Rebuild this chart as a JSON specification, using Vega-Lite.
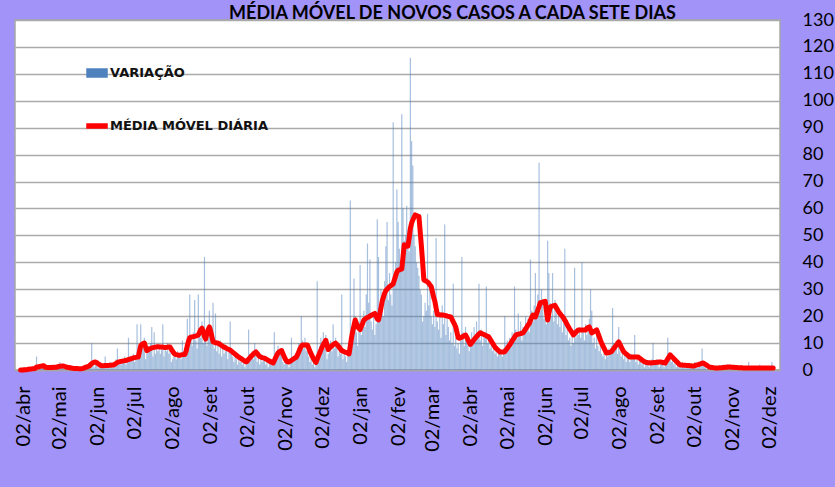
{
"$schema": "https://vega.github.io/schema/vega-lite/v6.json",
"width": 765,
"height": 350,
"autosize": {"type": "none"},
"padding": {"left": 15, "top": 20, "right": 55, "bottom": 117},
"background": "#a193f8",
"config": {"view": {"fill": "white", "stroke": "#a6a6a6", "strokeWidth": 1.5}},
"title": {"text": "MÉDIA MÓVEL DE NOVOS CASOS A CADA SETE DIAS", "font": "Lato", "fontSize": 18, "fontWeight": "bold", "color": "#000000", "anchor": "middle", "dx": 55, "dy": 32, "offset": 2, "baseline": "bottom"},
"data": {"values": [
{"d":"2020-03-31","v":0,"m":0},{"d":"2020-04-01","v":0,"m":0},{"d":"2020-04-02","v":0,"m":0},{"d":"2020-04-03","v":1,"m":0.1},{"d":"2020-04-04","v":0,"m":0.1},{"d":"2020-04-05","v":0,"m":0.1},{"d":"2020-04-06","v":1,"m":0.3},{"d":"2020-04-07","v":0,"m":0.3},{"d":"2020-04-08","v":1,"m":0.4},{"d":"2020-04-09","v":0,"m":0.4},{"d":"2020-04-10","v":1,"m":0.5},{"d":"2020-04-11","v":0,"m":0.5},{"d":"2020-04-12","v":1,"m":0.6},{"d":"2020-04-13","v":5,"m":1.1},{"d":"2020-04-14","v":0,"m":1.1},{"d":"2020-04-15","v":1,"m":1.2},{"d":"2020-04-16","v":2,"m":1.4},{"d":"2020-04-17","v":1,"m":1.4},{"d":"2020-04-18","v":1,"m":1.6},{"d":"2020-04-19","v":2,"m":1.6},{"d":"2020-04-20","v":0,"m":1.0},{"d":"2020-04-21","v":1,"m":1.0},{"d":"2020-04-22","v":1,"m":0.9},{"d":"2020-04-23","v":0,"m":0.9},{"d":"2020-04-24","v":1,"m":0.9},{"d":"2020-04-25","v":2,"m":0.9},{"d":"2020-04-26","v":1,"m":0.9},{"d":"2020-04-27","v":1,"m":1.0},{"d":"2020-04-28","v":1,"m":1.0},{"d":"2020-04-29","v":1,"m":1.0},{"d":"2020-04-30","v":2,"m":1.1},
{"d":"2020-05-01","v":1,"m":1.3},{"d":"2020-05-02","v":3,"m":1.4},{"d":"2020-05-03","v":1,"m":1.4},{"d":"2020-05-04","v":2,"m":1.5},{"d":"2020-05-05","v":1,"m":1.5},{"d":"2020-05-06","v":0,"m":1.3},{"d":"2020-05-07","v":1,"m":1.1},{"d":"2020-05-08","v":0,"m":1.0},{"d":"2020-05-09","v":1,"m":0.9},{"d":"2020-05-10","v":1,"m":0.9},{"d":"2020-05-11","v":0,"m":0.7},{"d":"2020-05-12","v":1,"m":0.7},{"d":"2020-05-13","v":0,"m":0.6},{"d":"2020-05-14","v":1,"m":0.6},{"d":"2020-05-15","v":0,"m":0.6},{"d":"2020-05-16","v":1,"m":0.6},{"d":"2020-05-17","v":0,"m":0.5},{"d":"2020-05-18","v":1,"m":0.5},{"d":"2020-05-19","v":0,"m":0.5},{"d":"2020-05-20","v":1,"m":0.5},{"d":"2020-05-21","v":0,"m":0.6},{"d":"2020-05-22","v":1,"m":0.8},{"d":"2020-05-23","v":2,"m":1.0},{"d":"2020-05-24","v":1,"m":1.1},{"d":"2020-05-25","v":2,"m":1.3},{"d":"2020-05-26","v":1,"m":1.5},{"d":"2020-05-27","v":3,"m":2.0},{"d":"2020-05-28","v":10,"m":2.4},{"d":"2020-05-29","v":2,"m":2.7},{"d":"2020-05-30","v":1,"m":2.9},{"d":"2020-05-31","v":3,"m":3.0},
{"d":"2020-06-01","v":2,"m":2.8},{"d":"2020-06-02","v":1,"m":2.4},{"d":"2020-06-03","v":1,"m":2.1},{"d":"2020-06-04","v":2,"m":1.8},{"d":"2020-06-05","v":1,"m":1.6},{"d":"2020-06-06","v":2,"m":1.6},{"d":"2020-06-07","v":1,"m":1.6},{"d":"2020-06-08","v":5,"m":1.7},{"d":"2020-06-09","v":1,"m":1.7},{"d":"2020-06-10","v":2,"m":1.7},{"d":"2020-06-11","v":1,"m":1.7},{"d":"2020-06-12","v":3,"m":1.8},{"d":"2020-06-13","v":2,"m":1.8},{"d":"2020-06-14","v":1,"m":1.9},{"d":"2020-06-15","v":2,"m":1.9},{"d":"2020-06-16","v":3,"m":2.2},{"d":"2020-06-17","v":4,"m":2.5},{"d":"2020-06-18","v":8,"m":2.8},{"d":"2020-06-19","v":2,"m":3.0},{"d":"2020-06-20","v":3,"m":3.1},{"d":"2020-06-21","v":2,"m":3.2},{"d":"2020-06-22","v":4,"m":3.3},{"d":"2020-06-23","v":3,"m":3.4},{"d":"2020-06-24","v":5,"m":3.5},{"d":"2020-06-25","v":2,"m":3.5},{"d":"2020-06-26","v":4,"m":3.7},{"d":"2020-06-27","v":12,"m":3.9},{"d":"2020-06-28","v":3,"m":4.0},{"d":"2020-06-29","v":5,"m":4.2},{"d":"2020-06-30","v":4,"m":4.3},
{"d":"2020-07-01","v":6,"m":4.5},{"d":"2020-07-02","v":3,"m":4.6},{"d":"2020-07-03","v":5,"m":4.7},{"d":"2020-07-04","v":17,"m":4.8},{"d":"2020-07-05","v":6,"m":4.8},{"d":"2020-07-06","v":9,"m":7.0},{"d":"2020-07-07","v":17,"m":9.0},{"d":"2020-07-08","v":10,"m":9.5},{"d":"2020-07-09","v":8,"m":9.8},{"d":"2020-07-10","v":12,"m":10.0},{"d":"2020-07-11","v":4,"m":8.5},{"d":"2020-07-12","v":6,"m":7.2},{"d":"2020-07-13","v":9,"m":7.5},{"d":"2020-07-14","v":7,"m":7.8},{"d":"2020-07-15","v":10,"m":8.0},{"d":"2020-07-16","v":16,"m":8.2},{"d":"2020-07-17","v":5,"m":8.3},{"d":"2020-07-18","v":14,"m":8.4},{"d":"2020-07-19","v":6,"m":8.5},{"d":"2020-07-20","v":8,"m":8.6},{"d":"2020-07-21","v":7,"m":8.6},{"d":"2020-07-22","v":9,"m":8.6},{"d":"2020-07-23","v":6,"m":8.5},{"d":"2020-07-24","v":8,"m":8.5},{"d":"2020-07-25","v":17,"m":8.5},{"d":"2020-07-26","v":5,"m":8.4},{"d":"2020-07-27","v":9,"m":8.4},{"d":"2020-07-28","v":7,"m":8.4},{"d":"2020-07-29","v":10,"m":8.5},{"d":"2020-07-30","v":6,"m":8.5},{"d":"2020-07-31","v":8,"m":8.5},
{"d":"2020-08-01","v":3,"m":7.7},{"d":"2020-08-02","v":4,"m":7.0},{"d":"2020-08-03","v":5,"m":6.3},{"d":"2020-08-04","v":6,"m":5.8},{"d":"2020-08-05","v":4,"m":5.7},{"d":"2020-08-06","v":7,"m":5.6},{"d":"2020-08-07","v":5,"m":5.5},{"d":"2020-08-08","v":6,"m":5.5},{"d":"2020-08-09","v":4,"m":5.6},{"d":"2020-08-10","v":11,"m":5.7},{"d":"2020-08-11","v":5,"m":5.8},{"d":"2020-08-12","v":7,"m":5.8},{"d":"2020-08-13","v":8,"m":7.0},{"d":"2020-08-14","v":19,"m":9.0},{"d":"2020-08-15","v":10,"m":10.7},{"d":"2020-08-16","v":28,"m":12.0},{"d":"2020-08-17","v":12,"m":12.2},{"d":"2020-08-18","v":9,"m":12.3},{"d":"2020-08-19","v":14,"m":12.4},{"d":"2020-08-20","v":26,"m":12.5},{"d":"2020-08-21","v":11,"m":12.6},{"d":"2020-08-22","v":8,"m":12.8},{"d":"2020-08-23","v":28,"m":13.0},{"d":"2020-08-24","v":15,"m":14.0},{"d":"2020-08-25","v":12,"m":15.0},{"d":"2020-08-26","v":18,"m":15.5},{"d":"2020-08-27","v":10,"m":14.0},{"d":"2020-08-28","v":42,"m":12.5},{"d":"2020-08-29","v":14,"m":11.5},{"d":"2020-08-30","v":9,"m":13.5},{"d":"2020-08-31","v":12,"m":15.0},
{"d":"2020-09-01","v":22,"m":16.0},{"d":"2020-09-02","v":12,"m":14.5},{"d":"2020-09-03","v":16,"m":12.5},{"d":"2020-09-04","v":25,"m":10.5},{"d":"2020-09-05","v":8,"m":10.3},{"d":"2020-09-06","v":21,"m":10.1},{"d":"2020-09-07","v":7,"m":10.0},{"d":"2020-09-08","v":9,"m":10.0},{"d":"2020-09-09","v":6,"m":9.7},{"d":"2020-09-10","v":11,"m":9.4},{"d":"2020-09-11","v":5,"m":9.1},{"d":"2020-09-12","v":8,"m":8.8},{"d":"2020-09-13","v":6,"m":8.5},{"d":"2020-09-14","v":7,"m":8.3},{"d":"2020-09-15","v":9,"m":8.0},{"d":"2020-09-16","v":4,"m":7.8},{"d":"2020-09-17","v":8,"m":7.6},{"d":"2020-09-18","v":18,"m":7.4},{"d":"2020-09-19","v":6,"m":7.0},{"d":"2020-09-20","v":5,"m":6.6},{"d":"2020-09-21","v":3,"m":6.3},{"d":"2020-09-22","v":5,"m":5.9},{"d":"2020-09-23","v":4,"m":5.5},{"d":"2020-09-24","v":2,"m":5.1},{"d":"2020-09-25","v":6,"m":4.8},{"d":"2020-09-26","v":3,"m":4.5},{"d":"2020-09-27","v":4,"m":4.2},{"d":"2020-09-28","v":2,"m":3.9},{"d":"2020-09-29","v":3,"m":3.6},{"d":"2020-09-30","v":1,"m":3.3},
{"d":"2020-10-01","v":2,"m":3.0},{"d":"2020-10-02","v":4,"m":3.3},{"d":"2020-10-03","v":15,"m":4.0},{"d":"2020-10-04","v":6,"m":4.5},{"d":"2020-10-05","v":5,"m":5.0},{"d":"2020-10-06","v":7,"m":5.5},{"d":"2020-10-07","v":4,"m":6.0},{"d":"2020-10-08","v":10,"m":6.4},{"d":"2020-10-09","v":6,"m":6.7},{"d":"2020-10-10","v":3,"m":6.2},{"d":"2020-10-11","v":5,"m":5.6},{"d":"2020-10-12","v":2,"m":5.0},{"d":"2020-10-13","v":6,"m":4.8},{"d":"2020-10-14","v":3,"m":4.6},{"d":"2020-10-15","v":4,"m":4.5},{"d":"2020-10-16","v":5,"m":4.4},{"d":"2020-10-17","v":2,"m":4.1},{"d":"2020-10-18","v":4,"m":3.9},{"d":"2020-10-19","v":1,"m":3.6},{"d":"2020-10-20","v":3,"m":3.3},{"d":"2020-10-21","v":2,"m":3.1},{"d":"2020-10-22","v":2,"m":2.8},{"d":"2020-10-23","v":3,"m":2.6},{"d":"2020-10-24","v":14,"m":3.5},{"d":"2020-10-25","v":4,"m":4.5},{"d":"2020-10-26","v":5,"m":5.5},{"d":"2020-10-27","v":9,"m":6.3},{"d":"2020-10-28","v":6,"m":6.8},{"d":"2020-10-29","v":8,"m":7.0},{"d":"2020-10-30","v":5,"m":7.2},{"d":"2020-10-31","v":3,"m":6.0},
{"d":"2020-11-01","v":2,"m":5.0},{"d":"2020-11-02","v":4,"m":4.0},{"d":"2020-11-03","v":3,"m":3.3},{"d":"2020-11-04","v":2,"m":3.0},{"d":"2020-11-05","v":1,"m":3.0},{"d":"2020-11-06","v":4,"m":3.3},{"d":"2020-11-07","v":12,"m":3.6},{"d":"2020-11-08","v":3,"m":3.9},{"d":"2020-11-09","v":5,"m":4.2},{"d":"2020-11-10","v":6,"m":4.5},{"d":"2020-11-11","v":4,"m":4.8},{"d":"2020-11-12","v":8,"m":5.7},{"d":"2020-11-13","v":10,"m":6.8},{"d":"2020-11-14","v":9,"m":7.9},{"d":"2020-11-15","v":20,"m":8.8},{"d":"2020-11-16","v":11,"m":9.3},{"d":"2020-11-17","v":8,"m":9.3},{"d":"2020-11-18","v":12,"m":9.3},{"d":"2020-11-19","v":7,"m":9.3},{"d":"2020-11-20","v":9,"m":9.3},{"d":"2020-11-21","v":5,"m":8.2},{"d":"2020-11-22","v":3,"m":7.0},{"d":"2020-11-23","v":4,"m":6.0},{"d":"2020-11-24","v":2,"m":5.0},{"d":"2020-11-25","v":3,"m":4.2},{"d":"2020-11-26","v":1,"m":3.4},{"d":"2020-11-27","v":2,"m":2.8},{"d":"2020-11-28","v":33,"m":4.0},{"d":"2020-11-29","v":6,"m":5.2},{"d":"2020-11-30","v":9,"m":6.3},
{"d":"2020-12-01","v":12,"m":7.4},{"d":"2020-12-02","v":10,"m":8.5},{"d":"2020-12-03","v":14,"m":9.5},{"d":"2020-12-04","v":8,"m":10.3},{"d":"2020-12-05","v":13,"m":11.0},{"d":"2020-12-06","v":4,"m":9.3},{"d":"2020-12-07","v":6,"m":7.6},{"d":"2020-12-08","v":9,"m":8.1},{"d":"2020-12-09","v":11,"m":8.6},{"d":"2020-12-10","v":7,"m":9.0},{"d":"2020-12-11","v":17,"m":9.4},{"d":"2020-12-12","v":8,"m":9.7},{"d":"2020-12-13","v":12,"m":10.0},{"d":"2020-12-14","v":9,"m":9.5},{"d":"2020-12-15","v":5,"m":9.0},{"d":"2020-12-16","v":7,"m":8.4},{"d":"2020-12-17","v":6,"m":7.8},{"d":"2020-12-18","v":28,"m":7.2},{"d":"2020-12-19","v":4,"m":7.0},{"d":"2020-12-20","v":6,"m":6.8},{"d":"2020-12-21","v":5,"m":6.6},{"d":"2020-12-22","v":3,"m":6.4},{"d":"2020-12-23","v":7,"m":6.2},{"d":"2020-12-24","v":8,"m":6.0},{"d":"2020-12-25","v":63,"m":9.0},{"d":"2020-12-26","v":12,"m":12.0},{"d":"2020-12-27","v":15,"m":14.5},{"d":"2020-12-28","v":34,"m":16.5},{"d":"2020-12-29","v":20,"m":18.6},{"d":"2020-12-30","v":14,"m":17.2},{"d":"2020-12-31","v":9,"m":16.0},
{"d":"2021-01-01","v":18,"m":15.5},{"d":"2021-01-02","v":39,"m":15.0},{"d":"2021-01-03","v":13,"m":16.2},{"d":"2021-01-04","v":17,"m":17.3},{"d":"2021-01-05","v":22,"m":18.5},{"d":"2021-01-06","v":16,"m":18.9},{"d":"2021-01-07","v":28,"m":19.3},{"d":"2021-01-08","v":47,"m":19.5},{"d":"2021-01-09","v":25,"m":19.7},{"d":"2021-01-10","v":41,"m":20.0},{"d":"2021-01-11","v":18,"m":20.3},{"d":"2021-01-12","v":15,"m":20.5},{"d":"2021-01-13","v":21,"m":20.8},{"d":"2021-01-14","v":13,"m":21.0},{"d":"2021-01-15","v":17,"m":20.0},{"d":"2021-01-16","v":56,"m":19.0},{"d":"2021-01-17","v":42,"m":18.6},{"d":"2021-01-18","v":22,"m":20.7},{"d":"2021-01-19","v":30,"m":23.0},{"d":"2021-01-20","v":24,"m":25.5},{"d":"2021-01-21","v":20,"m":27.0},{"d":"2021-01-22","v":33,"m":28.5},{"d":"2021-01-23","v":46,"m":29.5},{"d":"2021-01-24","v":55,"m":30.0},{"d":"2021-01-25","v":26,"m":30.5},{"d":"2021-01-26","v":36,"m":31.0},{"d":"2021-01-27","v":28,"m":31.3},{"d":"2021-01-28","v":24,"m":31.6},{"d":"2021-01-29","v":92,"m":32.0},{"d":"2021-01-30","v":33,"m":33.5},{"d":"2021-01-31","v":40,"m":35.0},
{"d":"2021-02-01","v":67,"m":36.4},{"d":"2021-02-02","v":55,"m":37.0},{"d":"2021-02-03","v":45,"m":37.2},{"d":"2021-02-04","v":38,"m":37.4},{"d":"2021-02-05","v":95,"m":37.5},{"d":"2021-02-06","v":60,"m":42.0},{"d":"2021-02-07","v":48,"m":46.5},{"d":"2021-02-08","v":50,"m":46.3},{"d":"2021-02-09","v":61,"m":46.0},{"d":"2021-02-10","v":52,"m":46.0},{"d":"2021-02-11","v":44,"m":49.0},{"d":"2021-02-12","v":116,"m":52.5},{"d":"2021-02-13","v":85,"m":54.5},{"d":"2021-02-14","v":76,"m":55.8},{"d":"2021-02-15","v":50,"m":56.7},{"d":"2021-02-16","v":46,"m":57.6},{"d":"2021-02-17","v":40,"m":57.4},{"d":"2021-02-18","v":38,"m":57.2},{"d":"2021-02-19","v":35,"m":57.0},{"d":"2021-02-20","v":30,"m":51.5},{"d":"2021-02-21","v":28,"m":46.0},{"d":"2021-02-22","v":18,"m":40.0},{"d":"2021-02-23","v":20,"m":33.5},{"d":"2021-02-24","v":25,"m":33.2},{"d":"2021-02-25","v":22,"m":33.0},{"d":"2021-02-26","v":58,"m":32.7},{"d":"2021-02-27","v":24,"m":32.2},{"d":"2021-02-28","v":30,"m":31.6},
{"d":"2021-03-01","v":20,"m":31.0},{"d":"2021-03-02","v":17,"m":29.0},{"d":"2021-03-03","v":22,"m":27.0},{"d":"2021-03-04","v":16,"m":25.5},{"d":"2021-03-05","v":49,"m":23.0},{"d":"2021-03-06","v":18,"m":20.6},{"d":"2021-03-07","v":15,"m":20.5},{"d":"2021-03-08","v":20,"m":20.5},{"d":"2021-03-09","v":12,"m":20.4},{"d":"2021-03-10","v":24,"m":20.4},{"d":"2021-03-11","v":17,"m":20.4},{"d":"2021-03-12","v":54,"m":20.3},{"d":"2021-03-13","v":13,"m":20.2},{"d":"2021-03-14","v":19,"m":20.0},{"d":"2021-03-15","v":16,"m":19.9},{"d":"2021-03-16","v":11,"m":19.8},{"d":"2021-03-17","v":14,"m":19.7},{"d":"2021-03-18","v":10,"m":18.8},{"d":"2021-03-19","v":32,"m":17.9},{"d":"2021-03-20","v":9,"m":17.0},{"d":"2021-03-21","v":12,"m":16.0},{"d":"2021-03-22","v":8,"m":14.0},{"d":"2021-03-23","v":10,"m":12.0},{"d":"2021-03-24","v":6,"m":11.8},{"d":"2021-03-25","v":11,"m":12.0},{"d":"2021-03-26","v":42,"m":12.2},{"d":"2021-03-27","v":14,"m":12.5},{"d":"2021-03-28","v":9,"m":12.8},{"d":"2021-03-29","v":16,"m":13.0},{"d":"2021-03-30","v":12,"m":12.2},{"d":"2021-03-31","v":12,"m":11.2},
{"d":"2021-04-01","v":7,"m":10.3},{"d":"2021-04-02","v":9,"m":9.5},{"d":"2021-04-03","v":14,"m":10.1},{"d":"2021-04-04","v":10,"m":10.7},{"d":"2021-04-05","v":16,"m":11.3},{"d":"2021-04-06","v":12,"m":11.9},{"d":"2021-04-07","v":18,"m":12.4},{"d":"2021-04-08","v":13,"m":12.9},{"d":"2021-04-09","v":32,"m":13.4},{"d":"2021-04-10","v":11,"m":13.8},{"d":"2021-04-11","v":15,"m":13.6},{"d":"2021-04-12","v":9,"m":13.4},{"d":"2021-04-13","v":14,"m":13.2},{"d":"2021-04-14","v":12,"m":13.0},{"d":"2021-04-15","v":31,"m":12.7},{"d":"2021-04-16","v":10,"m":12.5},{"d":"2021-04-17","v":13,"m":12.3},{"d":"2021-04-18","v":8,"m":11.5},{"d":"2021-04-19","v":11,"m":10.8},{"d":"2021-04-20","v":7,"m":10.0},{"d":"2021-04-21","v":10,"m":9.3},{"d":"2021-04-22","v":6,"m":8.5},{"d":"2021-04-23","v":9,"m":8.0},{"d":"2021-04-24","v":5,"m":7.6},{"d":"2021-04-25","v":8,"m":7.2},{"d":"2021-04-26","v":6,"m":6.7},{"d":"2021-04-27","v":7,"m":6.7},{"d":"2021-04-28","v":5,"m":6.7},{"d":"2021-04-29","v":8,"m":6.7},{"d":"2021-04-30","v":20,"m":6.8},
{"d":"2021-05-01","v":9,"m":7.4},{"d":"2021-05-02","v":11,"m":8.0},{"d":"2021-05-03","v":10,"m":8.7},{"d":"2021-05-04","v":12,"m":9.3},{"d":"2021-05-05","v":10,"m":10.0},{"d":"2021-05-06","v":14,"m":10.8},{"d":"2021-05-07","v":12,"m":11.5},{"d":"2021-05-08","v":31,"m":12.2},{"d":"2021-05-09","v":15,"m":13.0},{"d":"2021-05-10","v":12,"m":13.2},{"d":"2021-05-11","v":21,"m":13.3},{"d":"2021-05-12","v":14,"m":13.4},{"d":"2021-05-13","v":18,"m":13.5},{"d":"2021-05-14","v":11,"m":13.7},{"d":"2021-05-15","v":16,"m":13.8},{"d":"2021-05-16","v":13,"m":14.5},{"d":"2021-05-17","v":20,"m":15.2},{"d":"2021-05-18","v":17,"m":15.9},{"d":"2021-05-19","v":19,"m":16.7},{"d":"2021-05-20","v":14,"m":17.2},{"d":"2021-05-21","v":41,"m":18.5},{"d":"2021-05-22","v":22,"m":19.5},{"d":"2021-05-23","v":18,"m":20.4},{"d":"2021-05-24","v":24,"m":20.0},{"d":"2021-05-25","v":36,"m":19.7},{"d":"2021-05-26","v":20,"m":21.0},{"d":"2021-05-27","v":28,"m":22.3},{"d":"2021-05-28","v":77,"m":23.6},{"d":"2021-05-29","v":22,"m":25.0},{"d":"2021-05-30","v":30,"m":25.1},{"d":"2021-05-31","v":26,"m":25.2},
{"d":"2021-06-01","v":19,"m":25.4},{"d":"2021-06-02","v":24,"m":25.5},{"d":"2021-06-03","v":17,"m":22.0},{"d":"2021-06-04","v":48,"m":18.6},{"d":"2021-06-05","v":36,"m":21.0},{"d":"2021-06-06","v":25,"m":23.4},{"d":"2021-06-07","v":20,"m":23.6},{"d":"2021-06-08","v":36,"m":23.8},{"d":"2021-06-09","v":18,"m":23.9},{"d":"2021-06-10","v":26,"m":24.0},{"d":"2021-06-11","v":21,"m":23.2},{"d":"2021-06-12","v":17,"m":22.4},{"d":"2021-06-13","v":23,"m":21.6},{"d":"2021-06-14","v":16,"m":21.0},{"d":"2021-06-15","v":20,"m":20.4},{"d":"2021-06-16","v":14,"m":19.9},{"d":"2021-06-17","v":19,"m":19.3},{"d":"2021-06-18","v":45,"m":18.5},{"d":"2021-06-19","v":13,"m":17.7},{"d":"2021-06-20","v":15,"m":16.8},{"d":"2021-06-21","v":11,"m":16.0},{"d":"2021-06-22","v":12,"m":15.2},{"d":"2021-06-23","v":9,"m":14.5},{"d":"2021-06-24","v":14,"m":13.8},{"d":"2021-06-25","v":10,"m":13.0},{"d":"2021-06-26","v":38,"m":13.5},{"d":"2021-06-27","v":12,"m":14.0},{"d":"2021-06-28","v":15,"m":14.4},{"d":"2021-06-29","v":13,"m":14.9},{"d":"2021-06-30","v":16,"m":14.9},
{"d":"2021-07-01","v":12,"m":14.9},{"d":"2021-07-02","v":40,"m":14.9},{"d":"2021-07-03","v":14,"m":14.9},{"d":"2021-07-04","v":11,"m":14.9},{"d":"2021-07-05","v":17,"m":14.9},{"d":"2021-07-06","v":13,"m":15.5},{"d":"2021-07-07","v":15,"m":15.8},{"d":"2021-07-08","v":19,"m":16.0},{"d":"2021-07-09","v":30,"m":14.9},{"d":"2021-07-10","v":22,"m":13.8},{"d":"2021-07-11","v":10,"m":14.1},{"d":"2021-07-12","v":12,"m":14.4},{"d":"2021-07-13","v":8,"m":14.6},{"d":"2021-07-14","v":15,"m":14.9},{"d":"2021-07-15","v":9,"m":13.7},{"d":"2021-07-16","v":7,"m":12.5},{"d":"2021-07-17","v":10,"m":11.2},{"d":"2021-07-18","v":6,"m":10.0},{"d":"2021-07-19","v":5,"m":9.1},{"d":"2021-07-20","v":7,"m":8.1},{"d":"2021-07-21","v":4,"m":7.2},{"d":"2021-07-22","v":6,"m":6.3},{"d":"2021-07-23","v":5,"m":6.4},{"d":"2021-07-24","v":8,"m":6.5},{"d":"2021-07-25","v":7,"m":6.6},{"d":"2021-07-26","v":9,"m":6.8},{"d":"2021-07-27","v":23,"m":7.4},{"d":"2021-07-28","v":10,"m":8.0},{"d":"2021-07-29","v":8,"m":8.6},{"d":"2021-07-30","v":11,"m":9.2},{"d":"2021-07-31","v":6,"m":9.8},
{"d":"2021-08-01","v":16,"m":10.4},{"d":"2021-08-02","v":7,"m":9.5},{"d":"2021-08-03","v":5,"m":8.6},{"d":"2021-08-04","v":8,"m":7.7},{"d":"2021-08-05","v":4,"m":6.8},{"d":"2021-08-06","v":6,"m":6.4},{"d":"2021-08-07","v":3,"m":6.0},{"d":"2021-08-08","v":5,"m":5.6},{"d":"2021-08-09","v":4,"m":5.2},{"d":"2021-08-10","v":3,"m":4.8},{"d":"2021-08-11","v":6,"m":4.8},{"d":"2021-08-12","v":4,"m":4.8},{"d":"2021-08-13","v":5,"m":4.8},{"d":"2021-08-14","v":13,"m":4.8},{"d":"2021-08-15","v":3,"m":4.8},{"d":"2021-08-16","v":4,"m":4.8},{"d":"2021-08-17","v":2,"m":4.8},{"d":"2021-08-18","v":5,"m":4.4},{"d":"2021-08-19","v":3,"m":4.1},{"d":"2021-08-20","v":2,"m":3.7},{"d":"2021-08-21","v":3,"m":3.4},{"d":"2021-08-22","v":1,"m":3.0},{"d":"2021-08-23","v":4,"m":2.9},{"d":"2021-08-24","v":2,"m":2.8},{"d":"2021-08-25","v":3,"m":2.7},{"d":"2021-08-26","v":1,"m":2.7},{"d":"2021-08-27","v":2,"m":2.6},{"d":"2021-08-28","v":4,"m":2.7},{"d":"2021-08-29","v":10,"m":2.7},{"d":"2021-08-30","v":3,"m":2.8},{"d":"2021-08-31","v":2,"m":2.8},
{"d":"2021-09-01","v":4,"m":2.9},{"d":"2021-09-02","v":3,"m":2.9},{"d":"2021-09-03","v":1,"m":3.0},{"d":"2021-09-04","v":2,"m":3.0},{"d":"2021-09-05","v":3,"m":2.9},{"d":"2021-09-06","v":2,"m":2.8},{"d":"2021-09-07","v":1,"m":2.7},{"d":"2021-09-08","v":3,"m":2.6},{"d":"2021-09-09","v":5,"m":3.4},{"d":"2021-09-10","v":12,"m":4.1},{"d":"2021-09-11","v":6,"m":4.9},{"d":"2021-09-12","v":4,"m":5.6},{"d":"2021-09-13","v":3,"m":5.1},{"d":"2021-09-14","v":5,"m":4.7},{"d":"2021-09-15","v":2,"m":4.2},{"d":"2021-09-16","v":3,"m":3.7},{"d":"2021-09-17","v":1,"m":3.2},{"d":"2021-09-18","v":2,"m":2.8},{"d":"2021-09-19","v":1,"m":2.3},{"d":"2021-09-20","v":2,"m":1.9},{"d":"2021-09-21","v":1,"m":1.9},{"d":"2021-09-22","v":3,"m":1.8},{"d":"2021-09-23","v":1,"m":1.8},{"d":"2021-09-24","v":2,"m":1.8},{"d":"2021-09-25","v":1,"m":1.7},{"d":"2021-09-26","v":2,"m":1.7},{"d":"2021-09-27","v":1,"m":1.7},{"d":"2021-09-28","v":2,"m":1.6},{"d":"2021-09-29","v":1,"m":1.6},{"d":"2021-09-30","v":2,"m":1.5},
{"d":"2021-10-01","v":1,"m":1.5},{"d":"2021-10-02","v":3,"m":1.6},{"d":"2021-10-03","v":1,"m":1.8},{"d":"2021-10-04","v":2,"m":1.9},{"d":"2021-10-05","v":1,"m":2.0},{"d":"2021-10-06","v":3,"m":2.2},{"d":"2021-10-07","v":2,"m":2.3},{"d":"2021-10-08","v":8,"m":2.5},{"d":"2021-10-09","v":2,"m":2.6},{"d":"2021-10-10","v":1,"m":2.3},{"d":"2021-10-11","v":1,"m":2.0},{"d":"2021-10-12","v":0,"m":1.7},{"d":"2021-10-13","v":1,"m":1.4},{"d":"2021-10-14","v":0,"m":1.1},{"d":"2021-10-15","v":1,"m":1.0},{"d":"2021-10-16","v":0,"m":0.9},{"d":"2021-10-17","v":1,"m":0.9},{"d":"2021-10-18","v":1,"m":0.8},{"d":"2021-10-19","v":0,"m":0.7},{"d":"2021-10-20","v":1,"m":0.7},{"d":"2021-10-21","v":0,"m":0.7},{"d":"2021-10-22","v":1,"m":0.8},{"d":"2021-10-23","v":1,"m":0.8},{"d":"2021-10-24","v":0,"m":0.8},{"d":"2021-10-25","v":2,"m":0.9},{"d":"2021-10-26","v":1,"m":0.9},{"d":"2021-10-27","v":0,"m":1.0},{"d":"2021-10-28","v":1,"m":1.0},{"d":"2021-10-29","v":2,"m":1.1},{"d":"2021-10-30","v":1,"m":1.1},{"d":"2021-10-31","v":0,"m":1.1},
{"d":"2021-11-01","v":1,"m":1.0},{"d":"2021-11-02","v":1,"m":1.0},{"d":"2021-11-03","v":0,"m":1.0},{"d":"2021-11-04","v":1,"m":0.9},{"d":"2021-11-05","v":0,"m":0.9},{"d":"2021-11-06","v":1,"m":0.9},{"d":"2021-11-07","v":1,"m":0.8},{"d":"2021-11-08","v":0,"m":0.8},{"d":"2021-11-09","v":1,"m":0.8},{"d":"2021-11-10","v":0,"m":0.8},{"d":"2021-11-11","v":1,"m":0.7},{"d":"2021-11-12","v":1,"m":0.7},{"d":"2021-11-13","v":0,"m":0.7},{"d":"2021-11-14","v":1,"m":0.7},{"d":"2021-11-15","v":3,"m":0.7},{"d":"2021-11-16","v":0,"m":0.7},{"d":"2021-11-17","v":1,"m":0.7},{"d":"2021-11-18","v":0,"m":0.7},{"d":"2021-11-19","v":1,"m":0.7},{"d":"2021-11-20","v":0,"m":0.7},{"d":"2021-11-21","v":1,"m":0.7},{"d":"2021-11-22","v":0,"m":0.7},{"d":"2021-11-23","v":1,"m":0.7},{"d":"2021-11-24","v":2,"m":0.7},{"d":"2021-11-25","v":0,"m":0.7},{"d":"2021-11-26","v":1,"m":0.7},{"d":"2021-11-27","v":0,"m":0.7},{"d":"2021-11-28","v":1,"m":0.7},{"d":"2021-11-29","v":0,"m":0.7},{"d":"2021-11-30","v":1,"m":0.7},
{"d":"2021-12-01","v":0,"m":0.7},{"d":"2021-12-02","v":1,"m":0.7},{"d":"2021-12-03","v":0,"m":0.7},{"d":"2021-12-04","v":3,"m":0.7},{"d":"2021-12-05","v":1,"m":0.7}
]},
"encoding": {
  "x": {"field": "d", "type": "temporal",
    "scale": {"type": "utc", "domain": [{"year": 2020, "month": 3, "date": 30, "hours": 12, "utc": true}, {"year": 2021, "month": 12, "date": 6, "hours": 12, "utc": true}]},
    "axis": {"title": null, "grid": false, "ticks": false, "labelAngle": -90, "labelPadding": 16, "labelFont": "Lato", "labelFontSize": 20, "labelColor": "#000000", "domainColor": "#a6a6a6", "domainWidth": 1.5, "labelOverlap": false,
      "values": [
        {"year": 2020, "month": 4, "date": 2, "utc": true}, {"year": 2020, "month": 5, "date": 2, "utc": true}, {"year": 2020, "month": 6, "date": 2, "utc": true}, {"year": 2020, "month": 7, "date": 2, "utc": true}, {"year": 2020, "month": 8, "date": 2, "utc": true}, {"year": 2020, "month": 9, "date": 2, "utc": true}, {"year": 2020, "month": 10, "date": 2, "utc": true}, {"year": 2020, "month": 11, "date": 2, "utc": true}, {"year": 2020, "month": 12, "date": 2, "utc": true},
        {"year": 2021, "month": 1, "date": 2, "utc": true}, {"year": 2021, "month": 2, "date": 2, "utc": true}, {"year": 2021, "month": 3, "date": 2, "utc": true}, {"year": 2021, "month": 4, "date": 2, "utc": true}, {"year": 2021, "month": 5, "date": 2, "utc": true}, {"year": 2021, "month": 6, "date": 2, "utc": true}, {"year": 2021, "month": 7, "date": 2, "utc": true}, {"year": 2021, "month": 8, "date": 2, "utc": true}, {"year": 2021, "month": 9, "date": 2, "utc": true}, {"year": 2021, "month": 10, "date": 2, "utc": true}, {"year": 2021, "month": 11, "date": 2, "utc": true}, {"year": 2021, "month": 12, "date": 2, "utc": true}
      ],
      "labelExpr": "'02/' + ['jan','fev','mar','abr','mai','jun','jul','ago','set','out','nov','dez'][utcmonth(datum.value)]"}
  }
},
"layer": [
  {"mark": {"type": "bar", "size": 1.2, "opacity": 0.5},
   "encoding": {
     "y": {"field": "v", "type": "quantitative",
       "scale": {"domain": [0, 130], "nice": false},
       "axis": {"orient": "right", "title": null, "values": [0,10,20,30,40,50,60,70,80,90,100,110,120,130], "labelOverlap": false, "labelBound": false, "labelFlush": false, "grid": true, "gridColor": "#aaaaaa", "gridWidth": 1.5, "ticks": false, "domain": false, "labelPadding": 22, "labelFont": "Lato", "labelFontSize": 18, "labelColor": "#000000"}},
     "color": {"datum": "VARIAÇÃO", "type": "nominal",
       "scale": {"domain": ["VARIAÇÃO", "MÉDIA MÓVEL DIÁRIA"], "range": ["#4f81bd", "#ff0000"]},
       "legend": {"title": null, "orient": "none", "legendX": 71, "legendY": 42, "direction": "vertical", "padding": 0, "rowPadding": 35, "labelOffset": 2, "labelFont": "DejaVu Sans", "labelFontWeight": "bold", "labelFontSize": 13, "labelColor": "#111111", "labelLimit": 400, "symbolSize": 400, "symbolOpacity": 1,
         "encode": {"symbols": {"update": {
           "shape": {"signal": "datum.value === 'VARIAÇÃO' ? 'M-1,-0.4H1V0.4H-1Z' : 'M-1,-0.2H1V0.2H-1Z'"},
           "fill": {"signal": "scale('color', datum.value)"},
           "stroke": {"value": "transparent"},
           "opacity": {"value": 1},
           "fillOpacity": {"value": 1},
           "size": {"value": 400}}}}}}
   }},
  {"mark": {"type": "line", "strokeWidth": 5, "strokeJoin": "round", "strokeCap": "round"},
   "encoding": {
     "y": {"field": "m", "type": "quantitative",
       "scale": {"domain": [0, 130], "nice": false},
       "axis": {"orient": "right", "title": null, "values": [0,10,20,30,40,50,60,70,80,90,100,110,120,130], "labelOverlap": false, "labelBound": false, "labelFlush": false, "grid": true, "gridColor": "#aaaaaa", "gridWidth": 1.5, "ticks": false, "domain": false, "labelPadding": 22, "labelFont": "Lato", "labelFontSize": 18, "labelColor": "#000000"}},
     "color": {"datum": "MÉDIA MÓVEL DIÁRIA", "type": "nominal"}
   }}
]
}
